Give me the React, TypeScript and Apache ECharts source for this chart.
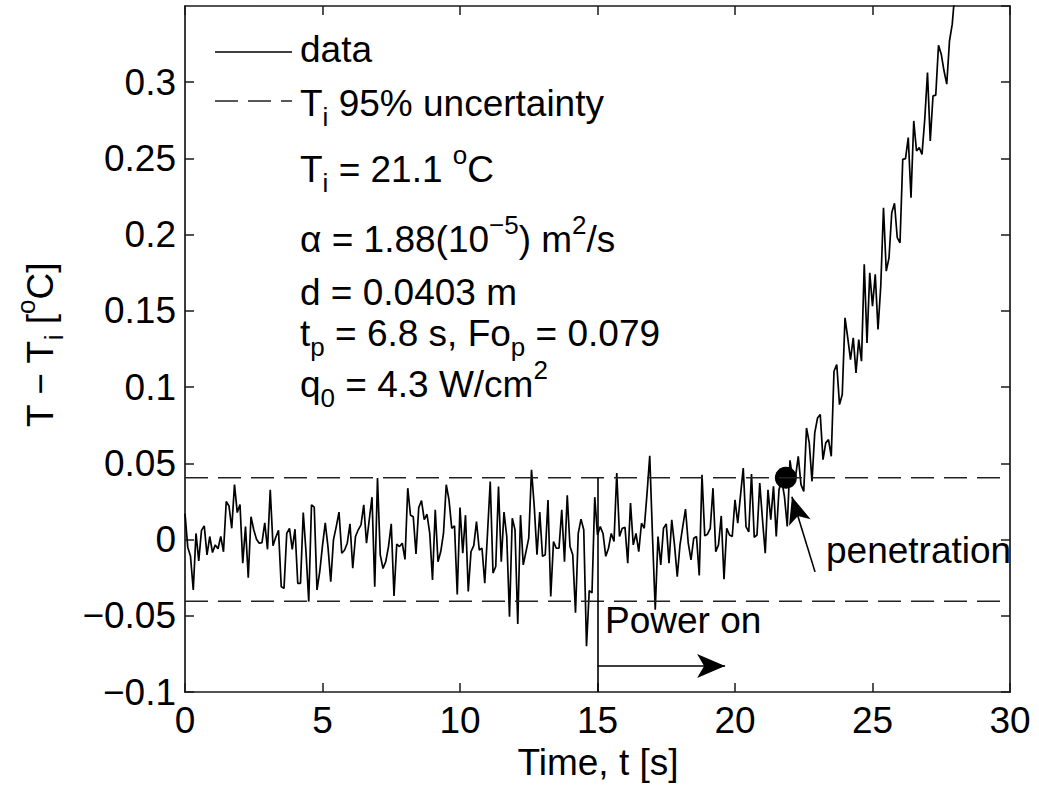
import React, { useEffect, useRef } from "react";
import * as echarts from "echarts";

// sample interval of the recorded temperature rise [s]
const sampleStep = 0.1;

// T - Ti [°C], one value per sample, starting at t = 0 s
const tempRise: number[] = [
  0.017, -0.005, -0.011, -0.033, 0.004, -0.014, 0.006, 0.009, -0.01, 0.002,
  -0.0085, -0.0035, -0.006, 0.002, -0.008, 0.025, 0.022, 0.0074, 0.036, 0.0177,
  0.023, -0.0155, 0.0085, -0.025, 0.015, 0.0064, 0.0002, -0.0024, -0.002, 0.011,
  -0.0064, 0.0326, -0.004, 0.0015, 0.006, -0.031, -0.032, 0.004, 0.0074, -0.0064,
  0.0068, -0.0287, -0.0287, 0.0177, -0.008, -0.0407, 0.0228, 0.0212, -0.033, -0.021,
  -0.004, 0.011, -0.005, -0.0276, 0.0, 0.0085, 0.018, -0.009, -0.007, -0.0024,
  0.0103, -0.0188, 0.002, 0.0064, 0.0096, 0.0228, -0.0024, 0.013, 0.0278, -0.031,
  0.0403, -0.01, -0.019, -0.0145, -0.0046, 0.0103, -0.037, -0.003, -0.0046, -0.0024,
  -0.013, 0.0337, 0.016, 0.015, -0.0094, 0.021, 0.0256, 0.013, 0.0166, 0.004,
  -0.0265, 0.0195, -0.0145, -0.0079, 0.004, 0.036, 0.026, 0.0074, 0.009, -0.036,
  0.021, -0.009, 0.016, -0.034, -0.0079, -0.004, 0.0118, -0.0068, -0.0057, -0.0287,
  0.004, 0.038, -0.022, -0.0177, 0.0348, -0.0145, 0.018, 0.002, -0.0506, 0.014,
  0.0064, -0.0554, 0.016, -0.0166, -0.0079, 0.0009, 0.0458, 0.0217, -0.01, 0.018,
  -0.011, -0.01, 0.026, -0.0374, -0.0013, -0.0057, -0.0057, 0.0195, -0.0145, 0.029,
  -0.0046, -0.01, -0.048, 0.004, 0.0134, 0.0064, -0.07, -0.0335, -0.035, 0.0278,
  0.003, 0.0085, 0.004, -0.011, -0.0057, 0.004, -0.0013, 0.0436, 0.002, 0.0074,
  0.008, -0.0155, 0.024, -0.0035, 0.004, -0.0079, 0.0107, 0.0074, 0.03, 0.055,
  0.002, -0.046, 0.002, -0.0166, 0.0074, 0.0103, -0.0155, 0.013, -0.0035, -0.0243,
  -0.0035, 0.0085, 0.02, -0.0024, -0.0134, 0.0009, 0.002, -0.0236, 0.0425, 0.0024,
  0.0035, 0.0074, 0.0337, -0.0079, -0.0035, 0.0155, -0.026, 0.0074, 0.003, 0.002,
  0.026, 0.0107, 0.029, 0.0469, 0.0085, 0.005, 0.043, 0.0015, 0.003, 0.037,
  0.013, -0.009, 0.0327, 0.013, 0.035, 0.002, 0.0327, 0.039, 0.028, 0.0086,
  0.052, 0.039, 0.041, 0.0546, 0.036, 0.0316, 0.0732, 0.0634, 0.0382, 0.07,
  0.0797, 0.082, 0.0524, 0.0634, 0.0656, 0.0546, 0.1104, 0.1148, 0.0885, 0.0951,
  0.1454, 0.1323, 0.1181, 0.1323, 0.1093, 0.1312, 0.117, 0.1805, 0.129, 0.175,
  0.1531, 0.174, 0.1378, 0.1662, 0.2177, 0.1761, 0.1848, 0.2144, 0.2206, 0.198,
  0.1947, 0.2494, 0.2499, 0.2637, 0.2243, 0.2746, 0.2549, 0.2571, 0.2527, 0.2757,
  0.3064, 0.2615, 0.291, 0.2915, 0.3243, 0.3184, 0.3075, 0.2987, 0.3271, 0.3381,
  0.36,
];

// 95% uncertainty band on Ti [°C]
const uncertainty = 0.0405;
// time at which the heater is switched on [s]
const powerOnTime = 15;
const powerOnArrowEnd = 19.64;
const powerOnArrowLevel = -0.083;
// penetration point
const penetrationTime = 21.85;
const penetrationLevel = 0.0405;
const penetrationArrowTail = [22.91, -0.0212];
const penetrationArrowHead = [22.07, 0.0281];

const xRange = [0, 30];
const yRange = [-0.1, 0.35];
const xStep = 5;
const yStep = 0.05;

const FONT = "'Liberation Sans', Arial, Helvetica, sans-serif";
const FS = 37;
const SFS = 26;
const LH = 54;

const rich = {
  n: { fontSize: FS, fontFamily: FONT, lineHeight: LH, fill: "#000" },
  sub: { fontSize: SFS, fontFamily: FONT, lineHeight: 26, verticalAlign: "bottom", fill: "#000" },
  sup: { fontSize: SFS, fontFamily: FONT, lineHeight: 26, verticalAlign: "top", fill: "#000" },
};

function richText(x: number, top: number, text: string, extra: any = {}) {
  return {
    type: "text",
    x,
    y: top,
    silent: true,
    ...extra,
    style: {
      text,
      rich,
      fontSize: FS,
      fontFamily: FONT,
      lineHeight: LH,
      fill: "#000",
      align: extra.align || "left",
      verticalAlign: extra.verticalAlign || "top",
    },
  };
}

export default function App() {
  const ref = useRef<HTMLDivElement>(null);

  useEffect(() => {
    if (!ref.current) return;
    const chart = echarts.init(ref.current, null, { renderer: "svg" });

    const lineData = tempRise.map((v, i) => [Number((i * sampleStep).toFixed(1)), v]);
    const axisColor = "#1a1a1a";

    const fmtY = (v: number) => {
      const s = String(parseFloat(v.toFixed(3)));
      return s.replace("-", "\u2212");
    };

    const baseX = {
      type: "value",
      min: xRange[0],
      max: xRange[1],
      interval: xStep,
      splitLine: { show: false },
      axisLine: { onZero: false, lineStyle: { color: axisColor, width: 1.7 } },
      axisTick: { inside: true, length: 9, lineStyle: { color: axisColor, width: 1.5 } },
    };
    const baseY = {
      type: "value",
      min: yRange[0],
      max: yRange[1],
      interval: yStep,
      splitLine: { show: false },
      axisLine: { onZero: false, lineStyle: { color: axisColor, width: 1.7 } },
      axisTick: { inside: true, length: 9, lineStyle: { color: axisColor, width: 1.5 } },
    };

    chart.setOption({
      animation: false,
      backgroundColor: "#fff",
      grid: { left: 185, right: 29, top: 6, bottom: 95, containLabel: false },
      xAxis: [
        {
          ...baseX,
          position: "bottom",
          axisLabel: { fontSize: FS, fontFamily: FONT, color: "#000", margin: 10 },
        },
        { ...baseX, position: "top", axisLabel: { show: false } },
      ],
      yAxis: [
        {
          ...baseY,
          position: "left",
          axisLabel: {
            fontSize: FS,
            fontFamily: FONT,
            color: "#000",
            margin: 9,
            showMaxLabel: false,
            formatter: fmtY,
          },
        },
        { ...baseY, position: "right", axisLabel: { show: false } },
      ],
      series: [
        {
          name: "data",
          type: "line",
          data: lineData,
          showSymbol: false,
          symbol: "none",
          lineStyle: { color: "#000", width: 1.7 },
          clip: true,
          silent: true,
          markLine: {
            silent: true,
            symbol: ["none", "none"],
            label: { show: false },
            lineStyle: { color: "#000", width: 1.6, type: "solid" },
            data: [
              [
                { coord: [powerOnTime, uncertainty] },
                { coord: [powerOnTime, yRange[0]] },
              ],
              [
                { coord: [powerOnTime, powerOnArrowLevel], symbol: "none" },
                {
                  coord: [powerOnArrowEnd, powerOnArrowLevel],
                  symbol: "arrow",
                  symbolSize: [18, 28],
                },
              ],
              [
                { coord: penetrationArrowTail, symbol: "none" },
                { coord: penetrationArrowHead, symbol: "arrow", symbolSize: [17, 27] },
              ],
            ],
          },
        },
        {
          name: "upper",
          type: "line",
          data: [
            [xRange[0], uncertainty],
            [xRange[1], uncertainty],
          ],
          symbol: "none",
          silent: true,
          lineStyle: { color: "#222", width: 1.6, type: [23, 10] },
        },
        {
          name: "lower",
          type: "line",
          data: [
            [xRange[0], -uncertainty],
            [xRange[1], -uncertainty],
          ],
          symbol: "none",
          silent: true,
          lineStyle: { color: "#222", width: 1.6, type: [23, 10] },
        },
        {
          name: "penetration",
          type: "scatter",
          data: [[penetrationTime, penetrationLevel]],
          symbol: "circle",
          symbolSize: 22,
          silent: true,
          itemStyle: { color: "#000", opacity: 1 },
        },
      ],
      graphic: [
        {
          type: "line",
          silent: true,
          shape: { x1: 215, y1: 52, x2: 292, y2: 52 },
          style: { stroke: "#000", lineWidth: 1.6 },
        },
        {
          type: "line",
          silent: true,
          shape: { x1: 215, y1: 101, x2: 292, y2: 101 },
          style: { stroke: "#222", lineWidth: 1.6, lineDash: [23, 10] },
        },
        richText(300, 22, "{n|data}"),
        richText(300, 76, "{n|T}{sub|i}{n| 95% uncertainty}"),
        richText(300, 142, "{n|T}{sub|i}{n| = 21.1 }{sup|o}{n|C}"),
        richText(300, 212, "{n|\u03b1 = 1.88(10}{sup|\u22125}{n|) m}{sup|2}{n|/s}"),
        richText(300, 265, "{n|d = 0.0403 m}"),
        richText(300, 306, "{n|t}{sub|p}{n| = 6.8 s, Fo}{sub|p}{n| = 0.079}"),
        richText(300, 357, "{n|q}{sub|0}{n| = 4.3 W/cm}{sup|2}"),
        richText(605, 593, "{n|Power on}"),
        richText(826, 523, "{n|penetration}"),
        richText(598, 735, "{n|Time, t [s]}", { align: "center" }),
        richText(40, 345, "{n|T \u2212 T}{sub|i}{n| [}{sup|o}{n|C]}", {
          align: "center",
          verticalAlign: "middle",
          rotation: Math.PI / 2,
        }),
      ],
    });

    return () => chart.dispose();
  }, []);

  return (
    <div
      ref={ref}
      style={{ position: "absolute", left: 0, top: 0, width: 1039, height: 787, background: "#fff" }}
    />
  );
}
